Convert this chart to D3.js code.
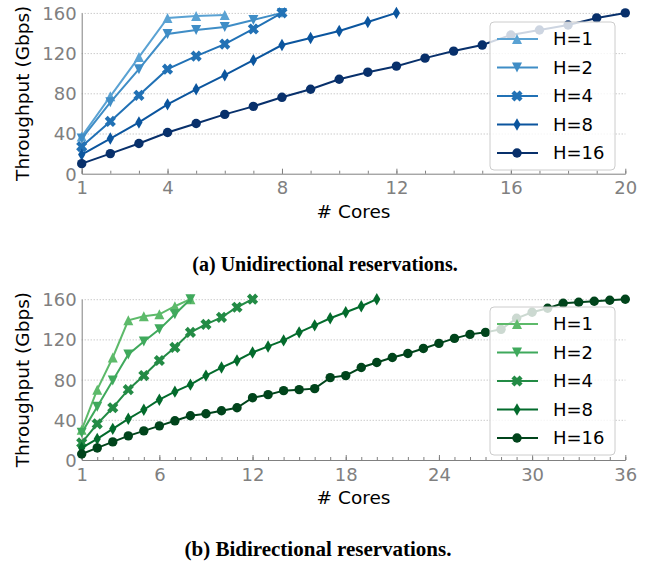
<!DOCTYPE html>
<html>
<head>
<meta charset="utf-8">
<script src="https://cdn.jsdelivr.net/npm/d3@7"></script>
<style>
  body { margin: 0; background: #fff; }
  text { font-family: "DejaVu Sans", sans-serif; }
  .caption { font-family: "Liberation Serif", "DejaVu Serif", serif; font-weight: bold; }
</style>
</head>
<body>
<div id="chart"></div>
<script>
// Series labels
const seriesNames = ["H=1", "H=2", "H=4", "H=8", "H=16"];

// (a) Unidirectional reservations, throughput per core count (starting at 1 core)
const uniH1 = [37, 77, 116, 155, 157, 158];
const uniH2 = [35, 71, 104, 139, 143, 146, 153, 160];
const uniH4 = [27, 52, 78, 104, 117, 129, 144, 160];
const uniH8 = [19, 35, 51, 69, 84, 98, 113, 128, 135, 142, 151, 160];
const uniH16 = [10, 20, 30, 41, 50, 59, 67, 76, 84, 94, 101, 107, 115, 122, 128, 138, 143, 148, 155, 160];

// (b) Bidirectional reservations
const biH1 = [30, 70, 102, 139, 143, 145, 153, 160];
const biH2 = [27, 53, 79, 105, 118, 130, 145, 160];
const biH4 = [17, 36, 52, 70, 84, 99, 112, 127, 135, 142, 152, 160];
const biH8 = [12, 21, 31, 41, 50, 60, 68, 75, 84, 92, 99, 107, 113, 119, 127, 134, 141, 147, 153, 160];
const biH16 = [6, 12, 18, 24, 29, 34, 39, 44, 46, 49, 52, 62, 65, 69, 70, 71, 82, 84, 92, 97,
               102, 106, 111, 116, 121, 125, 127, 130, 141, 147, 151, 156, 157, 158, 159, 160];

// tick labels
const yTicks = [0, 40, 80, 120, 160];
const uniXTicks = [1, 4, 8, 12, 16, 20];
const biXTicks = [1, 6, 12, 18, 24, 30, 36];

const blues = ["#5aa2d3", "#3f8dc6", "#2171b5", "#0b559e", "#08306b"];
const greens = ["#5dba6a", "#3fa95c", "#238b45", "#036b2c", "#00441b"];

const W = 657, H = 567;
const svg = d3.select("#chart").append("svg").attr("width", W).attr("height", H);

// marker shapes, drawn around 0,0
const markerPaths = [
  "M0,-5L5,5L-5,5Z",                       // triangle up
  "M0,5L5,-5L-5,-5Z",                      // triangle down
  (() => { const a = 5.8, t = 2.1;        // filled X
    const p = [[-t,-a],[t,-a],[t,-t],[a,-t],[a,t],[t,t],[t,a],[-t,a],[-t,t],[-a,t],[-a,-t],[-t,-t]];
    const r = Math.SQRT1_2;
    return "M" + p.map(([x, y]) => [(x - y) * r, (x + y) * r].join(",")).join("L") + "Z"; })(),
  "M0,-6.2L3.6,0L0,6.2L-3.6,0Z",           // thin diamond
  "M4.7,0A4.7,4.7 0 1,1 -4.7,0A4.7,4.7 0 1,1 4.7,0Z" // circle
];

function drawPanel(cfg) {
  const x = d3.scaleLinear().domain([1, cfg.xMax]).range([81.7, 625.3]);
  const y = d3.scaleLinear().domain([0, 160]).range([cfg.y0, cfg.y0 - 160.8]);
  const g = svg.append("g");

  // dotted grid
  g.append("g")
    .attr("transform", `translate(${x(1)},0)`)
    .call(d3.axisLeft(y).tickValues(yTicks.slice(1)).tickSize(-(x(cfg.xMax) - x(1))).tickFormat(""))
    .call(s => s.select(".domain").remove())
    .call(s => s.selectAll("line").attr("stroke", "#b3b3b3").attr("stroke-dasharray", "1,2"));

  // y labels
  g.append("g")
    .attr("transform", `translate(${x(1)},0)`)
    .call(d3.axisLeft(y).tickValues(yTicks).tickSize(0).tickPadding(5))
    .call(s => s.select(".domain").attr("stroke", "#808080"))
    .call(s => s.selectAll("text").attr("fill", "#808080").style("font-size", "18px")
      .attr("font-family", "DejaVu Sans").attr("dy", "0.36em"));

  // minor ticks at every core
  g.append("g")
    .attr("transform", `translate(0,${y(0)})`)
    .call(d3.axisBottom(x).ticks(cfg.xMax - 1).tickSize(-3).tickFormat(""))
    .call(s => s.select(".domain").remove())
    .call(s => s.selectAll("line").attr("stroke", "#808080"));

  // major ticks + labels
  g.append("g")
    .attr("transform", `translate(0,${y(0)})`)
    .call(d3.axisBottom(x).tickValues(cfg.xTicks).tickSize(-5).tickPadding(8).tickSizeOuter(0))
    .call(s => s.select(".domain").attr("stroke", "#808080"))
    .call(s => s.selectAll("line").attr("stroke", "#808080"))
    .call(s => s.selectAll("text").attr("fill", "#808080").style("font-size", "18px")
      .attr("font-family", "DejaVu Sans"));

  // axis titles
  g.append("text")
    .attr("transform", `translate(29,${y(80)}) rotate(-90)`)
    .attr("text-anchor", "middle").style("font-size", "18.5px").attr("fill", "#000")
    .text("Throughput (Gbps)");
  g.append("text")
    .attr("x", (x(1) + x(cfg.xMax)) / 2).attr("y", y(0) + 44)
    .attr("text-anchor", "middle").style("font-size", "18.5px").attr("fill", "#000")
    .text("# Cores");

  // lines + markers
  const line = d3.line().x((d, i) => x(i + 1)).y(d => y(d));
  cfg.series.forEach((vals, k) => {
    const sg = g.append("g");
    sg.append("path").attr("d", line(vals)).attr("fill", "none")
      .attr("stroke", cfg.colors[k]).attr("stroke-width", 2);
    sg.selectAll("path.m").data(vals).join("path").attr("class", "m")
      .attr("transform", (d, i) => `translate(${x(i + 1)},${y(d)})`)
      .attr("d", markerPaths[k]).attr("fill", cfg.colors[k]);
  });

  // legend
  const lg = g.append("g");
  lg.append("rect").attr("x", 490).attr("y", cfg.legY).attr("width", 125).attr("height", 148)
    .attr("rx", 4).attr("fill", "#fff").attr("fill-opacity", 0.8).attr("stroke", "#cccccc");
  seriesNames.forEach((name, k) => {
    const ly = cfg.legY + 17 + k * 28.5;
    lg.append("line").attr("x1", 497).attr("x2", 538).attr("y1", ly).attr("y2", ly)
      .attr("stroke", cfg.colors[k]).attr("stroke-width", 2);
    lg.append("path").attr("transform", `translate(517,${ly})`).attr("d", markerPaths[k])
      .attr("fill", cfg.colors[k]);
    lg.append("text").attr("x", 553).attr("y", ly).attr("dy", "0.36em")
      .style("font-size", "18px").attr("fill", "#000").text(name);
  });

  svg.append("text").attr("class", "caption")
    .attr("x", cfg.capX).attr("y", cfg.capY).attr("text-anchor", "middle")
    .style("font-size", cfg.capSize).text(cfg.caption);
}

drawPanel({
  xMax: 20, xTicks: uniXTicks, y0: 173.7, colors: blues,
  series: [uniH1, uniH2, uniH4, uniH8, uniH16], legY: 22,
  caption: "(a) Unidirectional reservations.", capX: 325, capY: 271, capSize: "20px"
});
drawPanel({
  xMax: 36, xTicks: biXTicks, y0: 460, colors: greens,
  series: [biH1, biH2, biH4, biH8, biH16], legY: 307,
  caption: "(b) Bidirectional reservations.", capX: 318, capY: 556, capSize: "21px"
});
</script>
</body>
</html>
